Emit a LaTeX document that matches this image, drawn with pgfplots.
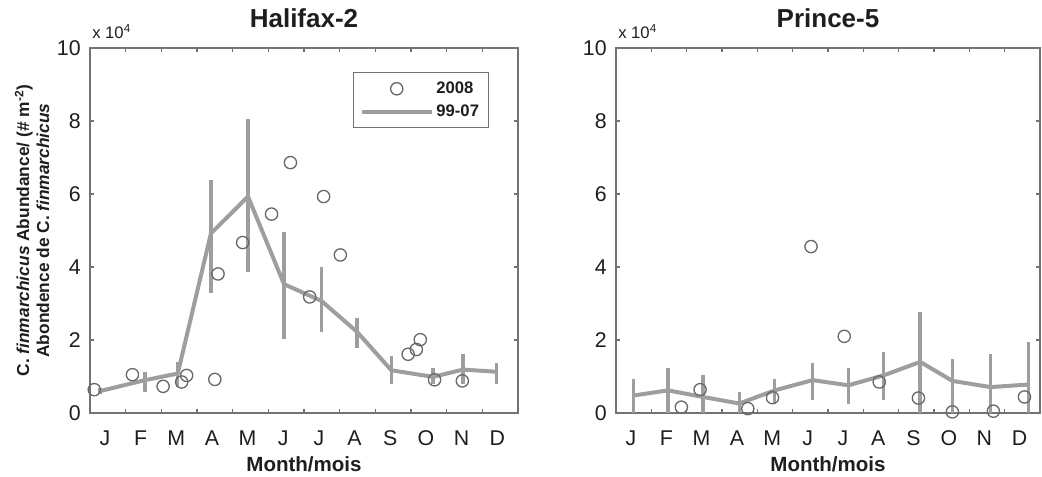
\documentclass[border=0pt]{standalone}
\usepackage{pgfplots}
\pgfplotsset{compat=1.18}
\usepackage{fontspec}
\setmainfont{Liberation Sans}

\definecolor{meangray}{RGB}{158,158,158}
\definecolor{dotgray}{RGB}{105,105,105}
\definecolor{axgray}{RGB}{115,115,115}
\definecolor{txt}{RGB}{30,30,30}

% 1 px of the reference = 0.75pt
\pgfplotsset{
  panel/.style={
    scale only axis, height=273.75pt,
    xmin=0, xmax=12, ymin=0, ymax=10,
    xtick={0,...,11},
    xticklabels={J,F,M,A,M,J,J,A,S,O,N,D},
    ytick={0,2,...,10},
    tick align=inside, major tick length=3pt,
    axis line style={axgray, line width=1.1pt},
    tick style={axgray, line width=0.9pt},
    /pgf/number format/assume math mode=true,
    x tick label style={font=\fontsize{16}{18}\selectfont, text=txt,
      anchor=base, xshift=11.2pt, yshift=-24pt},
    y tick label style={font=\fontsize{16}{18}\selectfont, text=txt, xshift=-3.5pt},
    xlabel style={font=\bfseries\fontsize{15.4}{18}\selectfont, text=txt,
      at={(axis description cs:0.5,-0.159)}, anchor=base},
    xlabel={Month/mois},
    legend image code/.code={\draw[mark repeat=2,mark phase=2]
      plot coordinates {(0pt,0pt) (26.25pt,0pt) (52.5pt,0pt)};},
  },
  meanline/.style={meangray, line width=3pt, line join=round,
    error bars/.cd, y dir=both, y explicit, error mark=none,
    error bar style={meangray, line width=2.6pt}},
  dots/.style={only marks, mark=o, mark size=4.6pt,
    mark options={dotgray, line width=1pt}},
}
\tikzset{
  paneltitle/.style={anchor=base, inner sep=0pt, text=txt,
    font=\bfseries\fontsize{19.5}{22}\selectfont},
  scalenote/.style={anchor=base west, inner sep=0pt, text=txt,
    font=\fontsize{12.5}{15}\selectfont},
}

\pgfplotstableread{
x     y     ep    em
0.28  0.60  0.08  0.08
1.54  0.90  0.23  0.32
2.46  1.08  0.32  0.37
3.39  4.92  1.47  1.64
4.43  5.93  2.12  2.06
5.44  3.53  1.44  1.49
6.49  3.07  0.93  0.85
7.49  2.22  0.37  0.45
8.45  1.17  0.39  0.38
9.62  0.99  0.23  0.20
10.46 1.19  0.44  0.39
11.39 1.13  0.25  0.34
}\halifaxmean

\pgfplotstableread{
x     y
0.12  0.64
1.19  1.05
2.05  0.73
2.57  0.85
2.71  1.03
3.50  0.92
3.59  3.81
4.28  4.67
5.09  5.45
5.62  6.86
6.16  3.18
6.55  5.93
7.02  4.33
8.92  1.61
9.15  1.74
9.26  2.01
9.66  0.91
10.44 0.88
}\halifaxdots

\pgfplotstableread{
x     y     ep    em
0.50  0.48  0.46  0.48
1.47  0.62  0.60  0.62
2.46  0.44  0.59  0.44
3.49  0.26  0.32  0.26
4.49  0.62  0.32  0.36
5.56  0.90  0.47  0.55
6.58  0.76  0.48  0.50
7.57  1.03  0.64  0.68
8.61  1.40  1.37  1.40
9.52  0.88  0.61  0.88
10.60 0.71  0.92  0.71
11.67 0.78  1.17  0.78
}\princemean

\pgfplotstableread{
x     y
1.85  0.16
2.38  0.64
3.73  0.12
4.43  0.42
5.52  4.56
6.46  2.10
7.45  0.85
8.56  0.41
9.52  0.03
10.68 0.05
11.56 0.44
}\princedots

\begin{document}
\begin{tikzpicture}
\useasboundingbox (-67.5pt,-47.25pt) rectangle (714pt,309.75pt);

\begin{axis}[panel, name=left, width=321pt,
  ylabel={C. \textit{finmarchicus} Abundance/ (\# m\textsuperscript{-2})\\Abondence de C. \textit{finmarchicus}},
  ylabel style={font=\bfseries\fontsize{13}{15}\selectfont, text=txt, align=center,
    at={(axis description cs:-0.1355,0.5)}, anchor=center},
  legend style={at={(axis description cs:0.932,0.934)}, anchor=north east,
    draw=axgray, line width=0.8pt, font=\bfseries\fontsize{12.5}{15}\selectfont,
    text=txt, inner xsep=5pt, inner ysep=5pt, row sep=3pt},
  legend cell align=left,
]
\addplot[dots] table[x=x, y=y] {\halifaxdots};
\addlegendentry{2008}
\addplot[meanline] table[x=x, y=y, y error plus=ep, y error minus=em] {\halifaxmean};
\addlegendentry{99-07}
\end{axis}
\node[paneltitle] at ([yshift=15.75pt]left.north) {Halifax-2};
\node[scalenote] at ([xshift=1.5pt, yshift=7.5pt]left.north west) {x 10\textsuperscript{4}};

\begin{axis}[panel, name=right, width=318pt, at={(394.5pt,0pt)}, anchor=south west]
\addplot[meanline] table[x=x, y=y, y error plus=ep, y error minus=em] {\princemean};
\addplot[dots] table[x=x, y=y] {\princedots};
\end{axis}
\node[paneltitle] at ([yshift=15.75pt]right.north) {Prince-5};
\node[scalenote] at ([xshift=1.5pt, yshift=7.5pt]right.north west) {x 10\textsuperscript{4}};
\end{tikzpicture}
\end{document}
